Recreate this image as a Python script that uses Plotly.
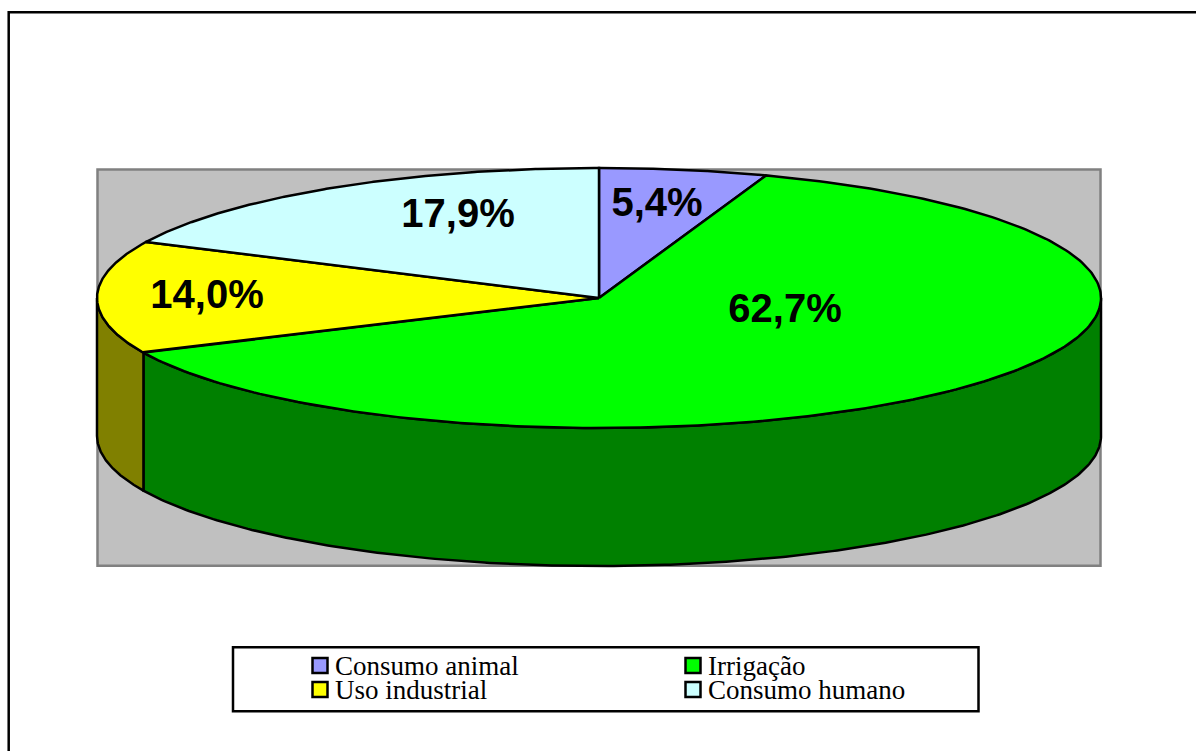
import numpy as np
import plotly.graph_objects as go

# ---- data ----
categories = ["Consumo animal", "Irrigação", "Uso industrial", "Consumo humano"]
shares = [5.4, 62.7, 14.0, 17.9]
top_colors = ["#9999FF", "#00FF00", "#FFFF00", "#CCFFFF"]
wall_colors = ["#4C4C80", "#008000", "#808000", "#668080"]

# ---- layout constants (pixel-like axis units) ----
W, H = 1196, 751
CX, CY, RX, RY, DEPTH = 599.0, 298.0, 502.0, 130.0, 138.0
label_xy = [(657, 206), (785, 312), (207, 298), (458, 217)]
swatch_xy = [(320, 665.5), (693, 665.5), (320, 689.5), (693, 689.5)]
LEGEND_TEXT_DX = 15
LEGEND_TEXT_DY = 3
LINE = 2.5


def ellipse(a_deg, dy=0.0):
    a = np.radians(a_deg)
    return CX + RX * np.sin(a), CY - RY * np.cos(a) + dy


fig = go.Figure()

# slice limits, clockwise from 12 o'clock
edges = np.concatenate([[0.0], np.cumsum(shares)]) * 3.6

# side walls (only the front half, 90..270 degrees, is visible)
for i in range(len(shares)):
    a0, a1 = max(edges[i], 90.0), min(edges[i + 1], 270.0)
    if a1 <= a0:
        continue
    t = np.linspace(a0, a1, 240)
    xt, yt = ellipse(t)
    xb, yb = ellipse(t[::-1], DEPTH)
    fig.add_trace(go.Scatter(
        x=np.r_[xt, xb, xt[0]], y=np.r_[yt, yb, yt[0]],
        mode="lines", fill="toself", fillcolor=wall_colors[i],
        line=dict(color="black", width=LINE), showlegend=False, hoverinfo="skip"))

# top faces
for i in range(len(shares)):
    t = np.linspace(edges[i], edges[i + 1], 240)
    xt, yt = ellipse(t)
    fig.add_trace(go.Scatter(
        x=np.r_[CX, xt, CX], y=np.r_[CY, yt, CY],
        mode="lines", fill="toself", fillcolor=top_colors[i],
        line=dict(color="black", width=LINE), showlegend=False, hoverinfo="skip"))

# data labels
fig.add_trace(go.Scatter(
    x=[p[0] for p in label_xy], y=[p[1] for p in label_xy],
    mode="text",
    text=[f"{v:.1f}%".replace(".", ",") for v in shares],
    textposition="middle center",
    textfont=dict(family="Liberation Sans", size=40, color="black", weight="bold"),
    showlegend=False, hoverinfo="skip"))

# legend swatches and their labels
fig.add_trace(go.Scatter(
    x=[p[0] for p in swatch_xy], y=[p[1] for p in swatch_xy],
    mode="markers",
    marker=dict(symbol="square", size=15, color=top_colors,
                line=dict(color="black", width=LINE)),
    showlegend=False, hoverinfo="skip"))
fig.add_trace(go.Scatter(
    x=[p[0] + LEGEND_TEXT_DX for p in swatch_xy],
    y=[p[1] + LEGEND_TEXT_DY for p in swatch_xy],
    mode="text", text=categories, textposition="middle right",
    textfont=dict(family="Liberation Serif", size=27, color="black"),
    showlegend=False, hoverinfo="skip"))

shapes = [
    # plot wall
    dict(type="rect", xref="x", yref="y", x0=97.5, x1=1100.5, y0=169.5, y1=565.7,
         fillcolor="#C0C0C0", line=dict(color="#808080", width=LINE), layer="below"),
    # legend frame
    dict(type="rect", xref="x", yref="y", x0=233, x1=978.5, y0=647.3, y1=711.3,
         fillcolor="white", line=dict(color="black", width=LINE), layer="below"),
    # chart frame, running off the window at right and bottom
    dict(type="path", xref="x", yref="y", path=f"M 8.7 {H + 5} L 8.7 12.2 L {W + 5} 12.2",
         line=dict(color="black", width=LINE), layer="below"),
]

fig.update_layout(
    width=W, height=H, margin=dict(l=0, r=0, t=0, b=0),
    paper_bgcolor="white", plot_bgcolor="white",
    xaxis=dict(range=[0, W], visible=False, fixedrange=True),
    yaxis=dict(range=[H, 0], visible=False, fixedrange=True),
    shapes=shapes)

fig.write_html("out.html", config={"displayModeBar": False},
               post_script="document.body.style.margin='0';document.body.style.overflow='hidden';")
